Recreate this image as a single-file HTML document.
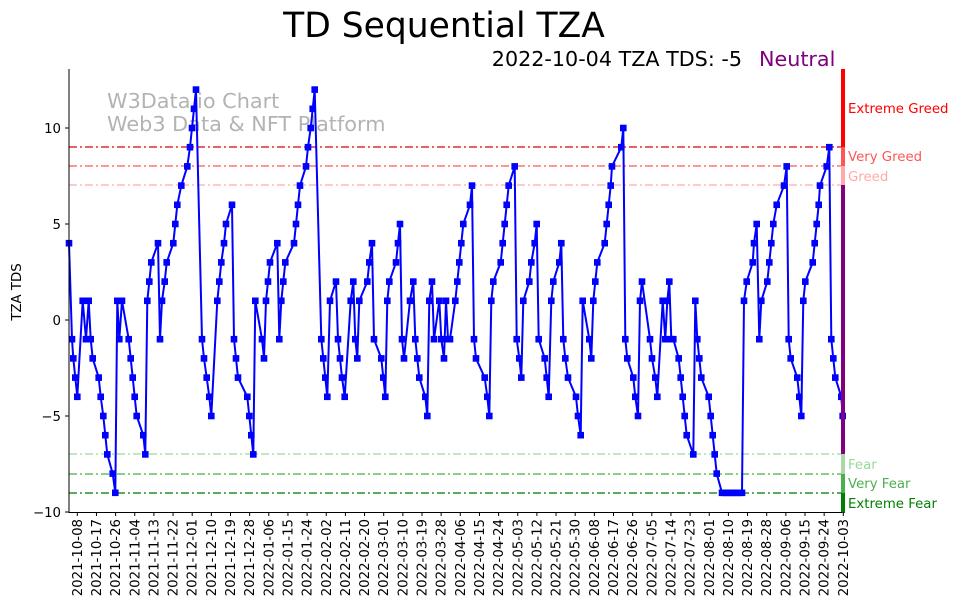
<!DOCTYPE html>
<html><head><meta charset="utf-8"><style>
body{margin:0;background:#fff;}
svg{display:block;font-family:"DejaVu Sans","Liberation Sans",sans-serif;}
</style></head><body>
<svg id="s" width="962" height="613" viewBox="0 0 962 613" xmlns="http://www.w3.org/2000/svg">
<rect width="962" height="613" fill="#fff"/>
<text x="444" y="37" font-size="34.5" text-anchor="middle" fill="#000">TD Sequential TZA</text>
<text x="742" y="66" font-size="20.7" text-anchor="end" fill="#000">2022-10-04 TZA TDS: -5</text>
<text x="759" y="66" font-size="20.7" fill="#800080">Neutral</text>
<text x="107" y="108" font-size="20.8" fill="#b3b3b3">W3Data.io Chart</text>
<text x="107" y="131" font-size="20.8" fill="#b3b3b3">Web3 Data &amp; NFT Platform</text>
<g stroke-width="1.2" stroke-dasharray="8,3,2,3" fill="none">
<line x1="69" x2="842" y1="147" y2="147" stroke="#dd0000"/>
<line x1="69" x2="842" y1="166" y2="166" stroke="#ff5555"/>
<line x1="69" x2="842" y1="185" y2="185" stroke="#ffaaaa"/>
<line x1="69" x2="842" y1="454" y2="454" stroke="#9ad99a"/>
<line x1="69" x2="842" y1="474" y2="474" stroke="#44b044"/>
<line x1="69" x2="842" y1="493" y2="493" stroke="#007700"/>
</g>
<g id="data"></g>
<rect x="841" y="69" width="4" height="78" fill="#ff0000"/>
<rect x="841" y="147" width="4" height="19" fill="#ff5555"/>
<rect x="841" y="166" width="4" height="19" fill="#ffaaaa"/>
<rect x="841" y="185" width="4" height="269" fill="#800080"/>
<rect x="841" y="454" width="4" height="20" fill="#a8d8a8"/>
<rect x="841" y="474" width="4" height="19" fill="#4caf50"/>
<rect x="841" y="493" width="4" height="20" fill="#008000"/>
<g font-size="13.3">
<text x="848" y="113" fill="#ff0000">Extreme Greed</text>
<text x="848" y="161" fill="#ff5555">Very Greed</text>
<text x="848" y="181" fill="#ffaaaa">Greed</text>
<text x="848" y="469" fill="#9ad99a">Fear</text>
<text x="848" y="488" fill="#4caf50">Very Fear</text>
<text x="848" y="508" fill="#008000">Extreme Fear</text>
</g>
<g stroke="#000" stroke-width="1">
<line x1="69" y1="69" x2="69" y2="513"/>
<line x1="68.5" y1="512.5" x2="842" y2="512.5"/>
<line x1="65" x2="69" y1="128" y2="128"/><line x1="65" x2="69" y1="224" y2="224"/>
<line x1="65" x2="69" y1="320" y2="320"/><line x1="65" x2="69" y1="416" y2="416"/>
<line x1="65" x2="69" y1="512" y2="512"/>
</g>
<g font-size="13.3" text-anchor="end">
<text x="61" y="133">10</text><text x="61" y="229">5</text><text x="61" y="325">0</text>
<text x="61" y="421">−5</text><text x="61" y="517">−10</text>
</g>
<text transform="translate(21,292) rotate(-90)" font-size="13.3" text-anchor="middle">TZA TDS</text>
<g id="xt" font-size="13.3"></g>
</svg>
<script>
var d=[69,4,72,-1,73.3,-2,75.3,-3,77.3,-4,82.7,1,86,-1,88.7,1,90.7,-1,92.7,-2,98.7,-3,100.7,-4,103.3,-5,105.3,-6,107.3,-7,112.7,-8,115.3,-9,117.3,1,119.3,-1,122,1,128.7,-1,130.7,-2,132.7,-3,134.7,-4,136.7,-5,143.3,-6,145.3,-7,147.3,1,149.3,2,151.3,3,158,4,160,-1,162,1,164.7,2,166.7,3,173.3,4,175.3,5,177.3,6,181.3,7,187.3,8,190,9,192,10,194,11,196,12,202,-1,204,-2,206.7,-3,209.3,-4,211.3,-5,217.3,1,219.3,2,221.3,3,224,4,226,5,232,6,234,-1,236,-2,238,-3,247.3,-4,249.3,-5,251.3,-6,253.3,-7,255.3,1,262,-1,264,-2,266,1,268,2,270,3,277.3,4,279.3,-1,281.3,1,283.3,2,285.3,3,294,4,296,5,298,6,300,7,306,8,308,9,310.7,10,312.7,11,314.7,12,321.3,-1,323.3,-2,325.3,-3,327.3,-4,330,1,336,2,338,-1,340,-2,342,-3,344.7,-4,350.7,1,353.3,2,355.3,-1,357.3,-2,359.3,1,367.3,2,369.3,3,372,4,374,-1,381.3,-2,383.3,-3,385.3,-4,387.3,1,389.3,2,396,3,398,4,400,5,402,-1,404,-2,410,1,413.3,2,415.3,-1,417.3,-2,419.3,-3,425.3,-4,427.3,-5,429.3,1,432,2,434,-1,439.3,1,441.3,-1,444,-2,446,1,448,-1,450,-1,455.3,1,457.3,2,459.3,3,461.3,4,463.3,5,470,6,472,7,474,-1,476,-2,484.7,-3,487.3,-4,489.3,-5,491.3,1,493.3,2,500.7,3,502.7,4,504.7,5,506.7,6,508.7,7,514.7,8,516.7,-1,519.3,-2,521.3,-3,523.3,1,529.3,2,531.3,3,534.7,4,536.7,5,538.7,-1,544.7,-2,546.7,-3,548.7,-4,551.3,1,553.3,2,559.3,3,561.3,4,563.3,-1,565.3,-2,568,-3,576,-4,578,-5,580.7,-6,582.7,1,589.3,-1,591.3,-2,593.3,1,595.3,2,597.3,3,604.7,4,606.7,5,608.7,6,610.7,7,612,8,621.3,9,623.3,10,625.3,-1,627.3,-2,633.3,-3,635.3,-4,638,-5,640,1,642,2,650,-1,652,-2,655.3,-3,657.3,-4,662.7,1,665.3,-1,667.3,1,669.3,2,671.3,-1,673.3,-1,678.7,-2,680.7,-3,682.7,-4,684.7,-5,686.7,-6,693.3,-7,695.3,1,697.3,-1,699.3,-2,701.3,-3,708.7,-4,710.7,-5,712.7,-6,714.7,-7,716.7,-8,722,-9,724,-9,726,-9,728,-9,730,-9,732,-9,734,-9,736,-9,738,-9,740,-9,742,-9,744,1,746.7,2,752.7,3,754,4,756.7,5,759.3,-1,761.3,1,767.3,2,769.3,3,771.3,4,773.3,5,776.7,6,784,7,786.7,8,788.7,-1,790.7,-2,797.3,-3,799.3,-4,801.3,-5,803.3,1,805.3,2,812.7,3,814.7,4,816.7,5,818.7,6,820,7,826.7,8,829.3,9,831.3,-1,833.3,-2,835.3,-3,841.3,-4,842.7,-5];
var g=document.getElementById("data"),pts=[],h="";
for(var i=0;i<d.length;i+=2){var x=d[i],y=320-19.2*d[i+1];pts.push(x+","+y.toFixed(1));h+='<rect x="'+(x-3.3)+'" y="'+(y-3.3).toFixed(1)+'" width="6.6" height="6.6" fill="#0000ff"/>';}
g.innerHTML='<polyline points="'+pts.join(" ")+'" fill="none" stroke="#0000ff" stroke-width="2" stroke-linejoin="round"/>'+h;
var xt=document.getElementById("xt"),s="",t0=Date.UTC(2021,9,8);
for(var k=0;k<41;k++){var x=77.3+k*19.15,dt=new Date(t0+k*9*864e5),lab=dt.toISOString().slice(0,10);
s+='<line x1="'+x+'" x2="'+x+'" y1="512" y2="516" stroke="#000"/>';
s+='<text transform="translate('+(x+4.5)+',519) rotate(-90)" text-anchor="end">'+lab+'</text>';}
xt.innerHTML=s;
</script>
</body></html>
